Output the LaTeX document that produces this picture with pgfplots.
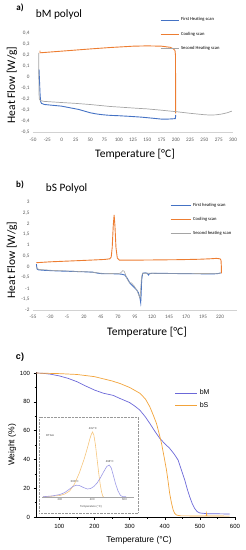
\documentclass[border=0pt]{standalone}
\usepackage{fontspec}
\setmainfont{Carlito}
\newfontfamily\arialf{Liberation Sans}
\usepackage{pgfplots}
\pgfplotsset{compat=1.18}
\definecolor{xblue}{HTML}{4472C4}
\definecolor{xorange}{HTML}{ED7D31}
\definecolor{xgray}{HTML}{A5A5A5}
\definecolor{xtick}{HTML}{595959}
\definecolor{cblue}{HTML}{6B68D8}
\definecolor{corange}{HTML}{F2A33A}
\definecolor{iblue}{HTML}{9C9AE6}
\definecolor{iorange}{HTML}{F6C67E}
\pgfplotsset{
  excel/.style={
    scale only axis, anchor=south west,
    axis lines*=left,
    y axis line style={draw=none},
    x axis line style={draw=gray!35, line width=0.4pt},
    tick style={draw=none},
    /pgf/number format/assume math mode=true,
    /pgf/number format/use comma,
    tick label style={font=\fontsize{5.2}{6}\selectfont, text=xtick},
    xlabel style={font=\fontsize{11.5}{13}\selectfont, anchor=center},
    ylabel style={font=\fontsize{11.5}{13}\selectfont, anchor=center},
    title style={font=\fontsize{11.3}{13}\selectfont, anchor=center},
    legend style={draw=none, fill=none, font=\fontsize{4.6}{5}\selectfont, anchor=north west, inner sep=0pt, row sep=5.5pt},
    legend cell align=left,
    legend image code/.code={\draw[##1] (0pt,0pt) -- (18pt,0pt);},
  }
}
\begin{document}
\begin{tikzpicture}
\useasboundingbox (0,0) rectangle (246pt,550pt);
% ---------- panel a ----------
\begin{axis}[excel, at={(33pt,418pt)}, width=200pt, height=99pt,
  xmin=-50, xmax=300, ymin=-0.5, ymax=0.4,
  xtick={-50,-25,...,300},
  ytick={-0.5,-0.4,-0.3,-0.2,-0.1,0,0.1,0.2,0.3,0.4},
  yticklabel={\ifdim\tick pt=0pt 0\else\pgfmathprintnumber[fixed,fixed zerofill,precision=1,use comma,assume math mode=true]{\tick}\fi},
  xticklabel style={yshift=-3pt},
  xlabel={Temperature [°C]}, xlabel style={at={(axis description cs:0.51,-0.222)}},
  ylabel={Heat Flow [W/g]}, ylabel style={at={(axis description cs:-0.105,0.475)}},
  title={bM polyol}, title style={at={(axis description cs:0.13,1.131)}},
  legend style={at={(axis description cs:0.635,1.176)}},
]
\addplot[xblue, line width=0.9pt] coordinates {(-39.5,0.07) (-38.5,-0.05) (-37.5,-0.17) (-36.5,-0.225) (-35,-0.24) (-30,-0.25) (-20,-0.255) (-10,-0.26) (0,-0.265) (10,-0.275) (20,-0.285) (30,-0.295) (40,-0.31) (50,-0.325) (60,-0.335) (70,-0.342) (80,-0.347) (90,-0.35) (100,-0.352) (120,-0.358) (140,-0.365) (160,-0.375) (175,-0.383) (185,-0.383) (195,-0.38) (199,-0.378) (199.5,-0.36) (199.5,-0.345)};
\addlegendentry{First Heating scan}
\addplot[xorange, line width=0.9pt] coordinates {(199.5,-0.33) (199.5,0) (199.3,0.2) (198.5,0.24) (196,0.255) (190,0.27) (175,0.28) (150,0.283) (125,0.28) (85,0.268) (50,0.255) (0,0.235) (-37.7,0.22) (-37.7,0.24)};
\addlegendentry{Cooling scan}
\addplot[xgray, line width=0.7pt] coordinates {(-39.8,0.22) (-39.8,0.0) (-39.5,-0.15) (-39,-0.2) (-37,-0.215) (-30,-0.222) (0,-0.232) (25,-0.24) (50,-0.25) (85,-0.268) (100,-0.273) (125,-0.282) (150,-0.29) (175,-0.302) (200,-0.315) (225,-0.33) (250,-0.343) (260,-0.346) (270,-0.344) (280,-0.337) (290,-0.325) (298,-0.31)};
\addlegendentry{Second Heating scan}
\end{axis}
\node[font=\bfseries\fontsize{9}{10}\selectfont] at (20pt,542pt) {a)};
% ---------- panel b ----------
\begin{axis}[excel, at={(33pt,240pt)}, width=204pt, height=108pt,
  xmin=-55, xmax=245, ymin=-2, ymax=3,
  xtick={-55,-30,...,220},
  ytick={-2,-1.5,-1,-0.5,0,0.5,1,1.5,2,2.5,3},
  xticklabel style={yshift=-2pt},
  xlabel={Temperature [°C]}, xlabel style={at={(axis description cs:0.559,-0.204)}},
  ylabel={Heat Flow [W/g]}, ylabel style={at={(axis description cs:-0.103,0.463)}},
  title={bS Polyol}, title style={at={(axis description cs:0.165,1.065)}},
  legend style={at={(axis description cs:0.672,1.008)}, row sep=5.2pt},
  legend image code/.code={\draw[#1] (0pt,0pt) -- (20pt,0pt);},
]
\addplot[xblue, line width=0.9pt] coordinates {(-50,0.12) (-49.5,0) (-49,-0.1) (-47,-0.14) (-40,-0.16) (-20,-0.19) (0,-0.21) (20,-0.23) (33,-0.25) (38,-0.28) (43,-0.31) (50,-0.32) (60,-0.32) (70,-0.33) (75,-0.34) (80,-0.38) (84,-0.55) (87.6,-0.76) (92,-0.9) (97.5,-1.07) (100,-1.2) (102.4,-1.46) (103.4,-1.66) (104,-1.3) (104.8,-0.61) (106.3,-0.3) (110,-0.28) (113,-0.3) (115,-0.38) (116,-0.32) (120,-0.3) (150,-0.31) (180,-0.32) (210,-0.33) (218,-0.31) (221,-0.28)};
\addlegendentry{First heating scan}
\addplot[xorange, line width=0.9pt] coordinates {(222,-0.3) (222,0) (221.5,0.3) (220,0.37) (215,0.39) (205,0.37) (190,0.35) (160,0.33) (130,0.32) (100,0.31) (80,0.31) (72,0.31) (69,0.4) (67,0.9) (65.5,1.9) (64.3,2.4) (63,1.9) (61.5,0.9) (60,0.45) (58,0.37) (50,0.34) (30,0.31) (0,0.27) (-30,0.23) (-50,0.19)};
\addlegendentry{Cooling scan}
\addplot[xgray, line width=0.6pt] coordinates {(-50,0.0) (-49,-0.08) (-46,-0.12) (-30,-0.16) (0,-0.2) (30,-0.24) (45,-0.3) (60,-0.31) (70,-0.32) (74,-0.28) (76.9,-0.18) (79,-0.2) (81,-0.35) (82.8,-0.53) (86.6,-0.73) (90,-0.75) (94,-0.9) (98,-1.1) (101,-1.35) (102.5,-1.45) (103.5,-1.0) (104.5,-0.5) (106,-0.3) (120,-0.3) (200,-0.31) (220,-0.3)};
\addlegendentry{Second heating scan}
\end{axis}
\node[font=\bfseries\fontsize{9}{10}\selectfont] at (20pt,365pt) {b)};
% ---------- panel c ----------
\begin{axis}[scale only axis, anchor=south west, at={(36pt,33pt)}, width=199pt, height=145.4pt,
  xmin=33.6, xmax=600, ymin=0, ymax=101,
  axis lines*=left, axis line style={line width=0.5pt},
  xtick={100,200,...,600}, ytick={0,20,...,100},
  minor x tick num=1, minor y tick num=1,
  tick align=outside, major tick length=2.5pt, minor tick length=1.5pt,
  tick style={line width=0.4pt, black},
  /pgf/number format/assume math mode=true,
  tick label style={font=\arialf\fontsize{6}{7}\selectfont},
  xticklabel style={yshift=-1.5pt},
  xlabel={Temperature (°C)}, xlabel style={font=\arialf\fontsize{8.5}{10}\selectfont, at={(axis description cs:0.518,-0.158)}, anchor=center},
  ylabel={Weight (\%)}, ylabel style={font=\arialf\fontsize{8.5}{10}\selectfont, at={(axis description cs:-0.12,0.495)}, anchor=center},
  legend style={draw=none, fill=none, font=\arialf\fontsize{7}{8}\selectfont, at={(axis description cs:0.698,0.89)}, anchor=north west, inner sep=0pt, row sep=2pt},
  legend cell align=left,
  legend image code/.code={\draw[#1] (0pt,0pt) -- (22pt,0pt);},
]
\addplot[cblue, line width=0.7pt] coordinates {(33.6,100) (50,99.9) (75,99.2) (100,98) (125,96.3) (150,94) (175,91) (200,88.2) (225,86) (253,84.5) (272,82.4) (300,79.5) (315,77) (329,74.3) (345,69.5) (357.5,65) (372,59.5) (386,54.6) (400,51) (414,47.7) (426,44) (438,39.6) (447,33) (457,25.7) (464,19.5) (471,14.1) (478,9.5) (485,6) (492,3.8) (500,2.8) (520,2.3) (585,2.1)};
\addlegendentry{bM}
\addplot[corange, line width=0.7pt] coordinates {(33.6,100) (100,99.6) (150,99) (200,97.5) (250,94.5) (272,92.8) (300,90) (329,86) (345,82) (357.5,76.6) (367,71) (376.5,65) (384,58) (390.8,51.2) (398,42) (405,32.6) (410,24) (414,16.5) (419,10) (424,4.9) (428,2.7) (433,1.4) (445,0.8) (518,0.7) (519,2.5) (520,0.7) (585,0.6)};
\addlegendentry{bS}
\end{axis}
\node[font=\arialf\bfseries\fontsize{9}{10}\selectfont] at (20pt,193pt) {c)};
% ---------- inset ----------
\draw[densely dotted, gray!80, line width=0.4pt] (39pt,37pt) rectangle (138pt,133pt);
\begin{axis}[scale only axis, anchor=south west, at={(42.2pt,53pt)}, width=92pt, height=72pt,
  xmin=90, xmax=660, ymin=0, ymax=72,
  axis x line*=bottom, axis y line=none,
  x axis line style={gray!70, line width=0.3pt},
  xtick={200,400,600}, tick style={draw=none},
  /pgf/number format/assume math mode=true,
  tick label style={font=\arialf\fontsize{2.8}{3}\selectfont, text=black!70},
  xticklabel style={yshift=2pt},
  xlabel={Temperature (°C)}, xlabel style={font=\arialf\fontsize{2.8}{3}\selectfont, text=black!70, at={(axis description cs:0.53,-0.135)}, anchor=center},
]
\addplot[iorange, line width=0.6pt] coordinates {(95,0.3) (150,0.8) (200,1.5) (230,3) (260,6) (290,13) (320,24) (350,38) (370,49) (385,58) (395,63) (402,65) (410,62) (420,52) (430,38) (440,24) (450,12) (458,5) (465,1) (470,0)};
\addplot[iblue, line width=0.6pt] coordinates {(95,0.3) (150,1) (200,2.5) (230,4.5) (260,8) (280,10.5) (300,11.8) (320,11.5) (345,9.5) (370,8) (390,8.5) (410,10.5) (430,14) (450,19) (470,25) (490,30.5) (505,32) (518,29) (530,22) (545,13) (560,6) (575,1.5) (590,0.3) (610,0.2)};
\node[font=\arialf\fontsize{2.8}{3}\selectfont, text=black!75] at (axis cs:291,15) {300°C};
\node[font=\arialf\fontsize{2.8}{3}\selectfont, text=black!75] at (axis cs:404,68) {402°C};
\node[font=\arialf\fontsize{2.8}{3}\selectfont, text=black!75] at (axis cs:508,35) {498°C};
\node[font=\arialf\fontsize{2.8}{3}\selectfont, text=black!75] at (axis description cs:0.085,0.86) {DTGA};
\end{axis}
\end{tikzpicture}
\end{document}
